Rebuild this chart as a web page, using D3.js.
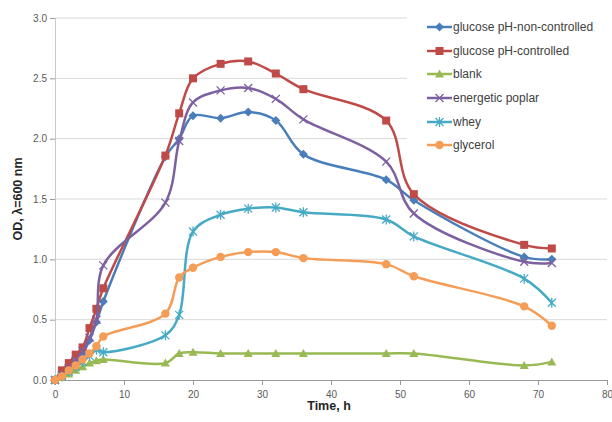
<!DOCTYPE html>
<html>
<head>
<meta charset="utf-8">
<script src="https://cdn.jsdelivr.net/npm/d3@7"></script>
<style>
   body { margin: 0; background: #fff; }
   text { font-family: "Liberation Sans", Arial, sans-serif; }
</style>
</head>
<body>
<div id="chart"></div>
<script>
// Temps de mesure (h)
const hours = [0, 1, 2, 3, 4, 5, 6, 7, 16, 18, 20, 24, 28, 32, 36, 48, 52, 68, 72]

// Valeurs OD
const glucoseNonControlled = [0, 0.04, 0.09, 0.15, 0.22, 0.33, 0.48, 0.65, 1.85, 2.0, 2.19, 2.17, 2.22, 2.15, 1.87, 1.66, 1.49, 1.02, 1.0]
const glucoseControlled = [0, 0.08, 0.14, 0.21, 0.27, 0.43, 0.59, 0.76, 1.86, 2.21, 2.5, 2.62, 2.64, 2.54, 2.41, 2.15, 1.54, 1.12, 1.09]
const blank = [0, 0.02, 0.05, 0.08, 0.11, 0.14, 0.16, 0.17, 0.14, 0.22, 0.23, 0.22, 0.22, 0.22, 0.22, 0.22, 0.22, 0.12, 0.15]
const energeticPoplar = [0, 0.04, 0.1, 0.16, 0.24, 0.35, 0.5, 0.95, 1.47, 1.98, 2.3, 2.4, 2.42, 2.33, 2.16, 1.81, 1.38, 0.98, 0.97]
const whey = [0, 0.03, 0.07, 0.11, 0.15, 0.2, 0.25, 0.23, 0.37, 0.54, 1.23, 1.37, 1.42, 1.43, 1.39, 1.33, 1.19, 0.84, 0.64]
const glycerol = [0, 0.03, 0.08, 0.12, 0.17, 0.22, 0.28, 0.36, 0.55, 0.85, 0.93, 1.02, 1.06, 1.06, 1.01, 0.96, 0.86, 0.61, 0.45]

const seriesNames = ["glucose pH-non-controlled", "glucose pH-controlled", "blank", "energetic poplar", "whey", "glycerol"]
const xTicks = [0, 10, 20, 30, 40, 50, 60, 70, 80]
const yTicks = [0, 0.5, 1, 1.5, 2, 2.5, 3]

const series = [
   {name: seriesNames[0], values: glucoseNonControlled, color: "#4a7ebb", marker: "diamond"},
   {name: seriesNames[1], values: glucoseControlled, color: "#be4b48", marker: "square"},
   {name: seriesNames[2], values: blank, color: "#98b954", marker: "triangle"},
   {name: seriesNames[3], values: energeticPoplar, color: "#7d60a0", marker: "x"},
   {name: seriesNames[4], values: whey, color: "#46aac5", marker: "star"},
   {name: seriesNames[5], values: glycerol, color: "#f59d56", marker: "circle"}
]

const width = 612, height = 422
const margin = {left: 55, right: 5, top: 18, bottom: 42}

const svg = d3.select("#chart").append("svg")
   .attr("width", width)
   .attr("height", height)

const x = d3.scaleLinear().domain([0, 80]).range([margin.left, width - margin.right])
const y = d3.scaleLinear().domain([0, 3]).range([height - margin.bottom, margin.top])

// Grille horizontale
svg.append("g")
   .selectAll("line")
   .data(yTicks.filter(d => d > 0))
   .join("line")
   .attr("x1", x(0)).attr("x2", x(80))
   .attr("y1", d => y(d)).attr("y2", d => y(d))
   .attr("stroke", "#d9d9d9")
   .attr("stroke-width", 1)

// Axe X
const xAxis = svg.append("g")
   .attr("transform", `translate(0,${y(0)})`)
   .call(d3.axisBottom(x).tickValues(xTicks).tickSize(5).tickFormat(d3.format("d")))
xAxis.select(".domain").attr("stroke", "#9a9a9a")
xAxis.selectAll(".tick line").attr("stroke", "#9a9a9a")
xAxis.selectAll(".tick text")
   .attr("fill", "#595959")
   .attr("font-size", 10)
   .attr("dy", "0.95em")

// Axe Y
const yAxis = svg.append("g")
   .attr("transform", `translate(${x(0)},0)`)
   .call(d3.axisLeft(y).tickValues(yTicks).tickSize(5).tickFormat(d3.format(".1f")))
yAxis.select(".domain").attr("stroke", "#c8c8c8")
yAxis.selectAll(".tick line").attr("stroke", "#9a9a9a")
yAxis.selectAll(".tick text")
   .attr("fill", "#595959")
   .attr("font-size", 10)
   .attr("x", -8)

// Titres des axes
svg.append("text")
   .attr("x", (x(0) + x(80)) / 2 - 2)
   .attr("y", 410)
   .attr("text-anchor", "middle")
   .attr("font-size", 12.5)
   .attr("font-weight", "bold")
   .attr("fill", "#262626")
   .text("Time, h")

svg.append("text")
   .attr("transform", `translate(22,${(y(0) + y(3)) / 2}) rotate(-90)`)
   .attr("text-anchor", "middle")
   .attr("font-size", 12.5)
   .attr("font-weight", "bold")
   .attr("fill", "#262626")
   .text("OD, λ=600 nm")

function drawMarker(g, type, color) {
   if (type === "diamond") {
      g.append("path").attr("d", "M0,-4.5L4.5,0L0,4.5L-4.5,0Z").attr("fill", color)
   } else if (type === "square") {
      g.append("rect").attr("x", -4).attr("y", -4).attr("width", 8).attr("height", 8).attr("fill", color)
   } else if (type === "triangle") {
      g.append("path").attr("d", "M0,-4.5L4.5,3.5L-4.5,3.5Z").attr("fill", color)
   } else if (type === "x") {
      g.append("path").attr("d", "M-4,-4L4,4M-4,4L4,-4").attr("stroke", color).attr("stroke-width", 1.3)
   } else if (type === "star") {
      g.append("path").attr("d", "M-4,-4L4,4M-4,4L4,-4M0,-5L0,5").attr("stroke", color).attr("stroke-width", 1.3)
   } else {
      g.append("circle").attr("r", 4.2).attr("fill", color)
   }
}

const line = d3.line()
   .x(d => x(d[0]))
   .y(d => y(d[1]))
   .curve(d3.curveCatmullRom.alpha(0.5))

// Courbes + marqueurs
for (let s of series) {
   const pts = hours.map((h, i) => [h, s.values[i]])
   svg.append("path")
      .datum(pts)
      .attr("d", line)
      .attr("fill", "none")
      .attr("stroke", s.color)
      .attr("stroke-width", 2.5)

   for (let p of pts) {
      const g = svg.append("g").attr("transform", `translate(${x(p[0])},${y(p[1])})`)
      drawMarker(g, s.marker, s.color)
   }
}

// Légende (fond blanc par-dessus la grille)
svg.append("rect")
   .attr("x", 407).attr("y", 12)
   .attr("width", 205).attr("height", 148)
   .attr("fill", "#fff")

const legendY = [27, 51, 74, 98, 122, 145]
series.forEach((s, i) => {
   const ly = legendY[i]
   svg.append("line")
      .attr("x1", 427).attr("x2", 452)
      .attr("y1", ly).attr("y2", ly)
      .attr("stroke", s.color)
      .attr("stroke-width", 2.5)
   const g = svg.append("g").attr("transform", `translate(439.5,${ly})`)
   drawMarker(g, s.marker, s.color)
   svg.append("text")
      .attr("x", 453)
      .attr("y", ly)
      .attr("dy", "0.35em")
      .attr("font-size", 12)
      .attr("fill", "#404040")
      .text(s.name)
})
</script>
</body>
</html>
